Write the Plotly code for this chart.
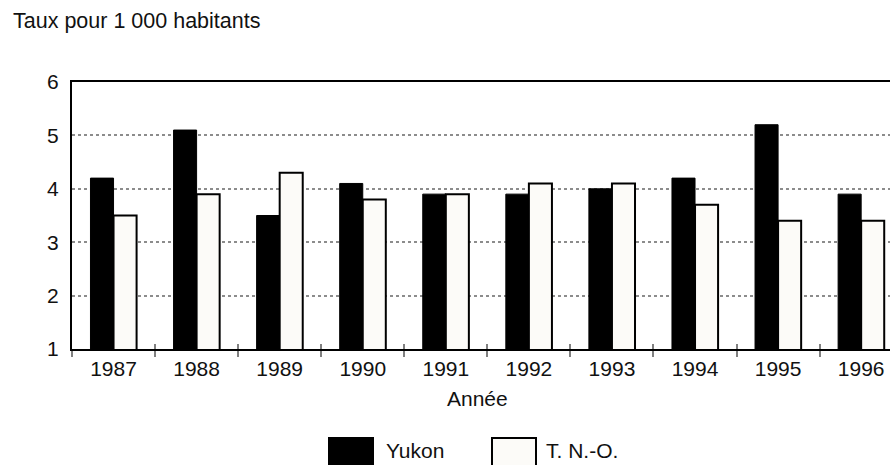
import plotly.graph_objects as go

# Taux pour 1 000 habitants, Yukon et Territoires du Nord-Ouest
annees = ["1987", "1988", "1989", "1990", "1991", "1992", "1993", "1994", "1995", "1996"]
yukon = [4.2, 5.1, 3.5, 4.1, 3.9, 3.9, 4.0, 4.2, 5.2, 3.9]
tno = [3.5, 3.9, 4.3, 3.8, 3.9, 4.1, 4.1, 3.7, 3.4, 3.4]
y_ticks = [1, 2, 3, 4, 5, 6]

W, H = 890, 465
ML, MR, MT, MB = 72, 0, 82, 116
PW, PH = W - ML - MR, H - MT - MB
FONT = "Liberation Sans, Arial, sans-serif"
INK = "#111111"
PALE = "#fcfbf8"
FS = 21


def px(x):
    return (x - ML) / PW


def py(y):
    return (H - MB - y) / PH


fig = go.Figure()
fig.add_trace(go.Bar(x=annees, y=yukon, name="Yukon",
                     marker=dict(color="#000000", line=dict(color="#000000", width=1))))
fig.add_trace(go.Bar(x=annees, y=tno, name="T. N.-O.",
                     marker=dict(color=PALE, line=dict(color="#000000", width=2))))
# inner tick marks crossing the axis line
fig.add_trace(go.Bar(x=annees, y=[None] * len(annees), xaxis="x2", showlegend=False,
                     hoverinfo="skip"))

step = 83.07
xmax = -0.5 + PW / step

fig.update_layout(
    width=W, height=H,
    margin=dict(l=ML, r=MR, t=MT, b=MB, pad=0),
    paper_bgcolor="white", plot_bgcolor="white",
    barmode="group", bargap=0.445, bargroupgap=0,
    showlegend=False,
    font=dict(family=FONT, size=FS, color=INK),
    xaxis=dict(type="category", range=[-0.5, xmax], tickson="boundaries",
               ticks="outside", ticklen=6, tickwidth=2, tickcolor="#808080",
               showline=True, linecolor="#000000", linewidth=2, mirror=True,
               showgrid=False, tickfont=dict(size=FS, color=INK), ticklabelstandoff=0),
    xaxis2=dict(type="category", range=[-0.5, xmax], overlaying="x", matches="x",
                tickson="boundaries", ticks="inside", ticklen=5, tickwidth=2,
                tickcolor="#808080", showticklabels=False, showgrid=False,
                showline=False, side="bottom"),
    yaxis=dict(range=[1, 6], tickvals=y_ticks, ticks="", ticklen=0, showline=True,
               linecolor="#000000", linewidth=2, mirror=False,
               showgrid=True, gridcolor="#8c8c8c", gridwidth=1.5, griddash="dot",
               zeroline=False, tickfont=dict(size=FS, color=INK), ticklabelstandoff=7),
)

ann = []
ann.append(dict(text="Taux pour 1 000 habitants", xref="paper", yref="paper",
                x=px(11), y=py(21), xanchor="left", yanchor="middle",
                showarrow=False, font=dict(size=21.5, color=INK)))
ann.append(dict(text="Année", xref="paper", yref="paper",
                x=px(477.5), y=py(398), xanchor="center", yanchor="middle",
                showarrow=False, font=dict(size=FS, color=INK)))

# legend swatches and labels
shapes = []
legend_items = [("Yukon", "#000000", 329, 385), ("T. N.-O.", PALE, 492, 545)]
for label, fill, x0, tx in legend_items:
    shapes.append(dict(type="rect", xref="paper", yref="paper",
                       x0=px(x0), x1=px(x0 + 44), y0=py(438), y1=py(470),
                       fillcolor=fill, line=dict(color="#000000", width=2), layer="above"))
    ann.append(dict(text=label, xref="paper", yref="paper",
                    x=px(tx - 1), y=py(450), xanchor="left", yanchor="middle",
                    showarrow=False, font=dict(size=FS, color=INK)))

fig.update_layout(annotations=ann, shapes=shapes)
fig.write_html("out.html")
